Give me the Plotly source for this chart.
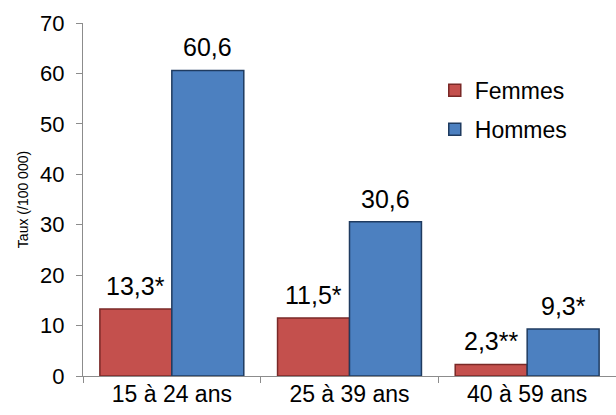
import plotly.graph_objects as go

categories = ["15 à 24 ans", "25 à 39 ans", "40 à 59 ans"]
femmes = [13.3, 11.5, 2.3]
hommes = [60.6, 30.6, 9.3]
femmes_labels = ["13,3*", "11,5*", "2,3**"]
hommes_labels = ["60,6", "30,6", "9,3*"]

fig = go.Figure()
fig.add_trace(go.Bar(
    x=categories, y=femmes, name="Femmes", legendgroup="f",
    marker=dict(color="#C4504D", line=dict(color="#7A2927", width=1.5)),
))
fig.add_trace(go.Bar(
    x=categories, y=hommes, name="Hommes", legendgroup="h",
    marker=dict(color="#4C80C0", line=dict(color="#1F3B60", width=1.5)),
))

# value labels above bars
for cat, v, lab in zip(categories, femmes, femmes_labels):
    fig.add_annotation(x=cat, y=v, text=lab, showarrow=False, xref="x", yref="y",
                       xanchor="center", yanchor="bottom", xshift=-36, yshift=7,
                       font=dict(size=25, color="#000000"))
for cat, v, lab in zip(categories, hommes, hommes_labels):
    fig.add_annotation(x=cat, y=v, text=lab, showarrow=False, xref="x", yref="y",
                       xanchor="center", yanchor="bottom", xshift=36, yshift=7,
                       font=dict(size=25, color="#000000"))

fig.update_layout(
    width=616, height=415,
    margin=dict(l=83, r=0, t=23, b=39),
    paper_bgcolor="white", plot_bgcolor="white",
    font=dict(family="Liberation Sans, Arial, sans-serif", color="#000000"),
    barmode="group", bargap=0.19, bargroupgap=0,
    showlegend=True,
    legend=dict(x=0.66, y=0.87, xanchor="left", yanchor="top",
                font=dict(size=23), traceorder="grouped", tracegroupgap=6,
                bgcolor="rgba(0,0,0,0)", itemwidth=30),
)
fig.update_yaxes(
    range=[0, 70], dtick=10, showgrid=False, zeroline=False,
    showline=True, linecolor="#8C8C8C", linewidth=1,
    ticks="outside", ticklen=6, tickcolor="#8C8C8C",
    tickfont=dict(size=22), ticklabelstandoff=7,
    title=dict(text="Taux (/100 000)", font=dict(size=14), standoff=8),
)
fig.update_xaxes(
    showgrid=False, showline=True, linecolor="#8C8C8C", linewidth=1,
    ticks="outside", ticklen=6, tickcolor="#8C8C8C", tickson="boundaries",
    tickfont=dict(size=23), ticklabelstandoff=-3,
)

fig.write_html("out.html")
